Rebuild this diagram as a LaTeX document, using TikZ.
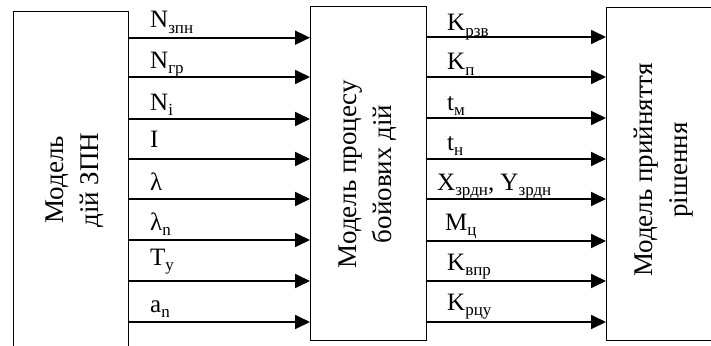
\documentclass[tikz,border=0pt]{standalone}
\usepackage{fontspec}
\setmainfont{Liberation Serif}
\usetikzlibrary{arrows.meta}
\newcommand\lsub[1]{\raisebox{-0.22em}{\fontsize{17}{17}\selectfont #1}}
\begin{document}
\begin{tikzpicture}[x=1pt,y=-1pt,
  box/.style={draw, line width=1.4pt, inner sep=0pt, anchor=north west},
  vtext/.style={rotate=90, align=center, font=\rmfamily\fontsize{27}{35}\selectfont, inner sep=0pt},
  lab/.style={anchor=base west, inner sep=0pt, font=\rmfamily\fontsize{25}{30}\selectfont},
  arr/.style={line width=1.8pt, -{Triangle[length=15pt,width=14pt]}}]
\useasboundingbox (0,0) rectangle (711,345);
% boxes
\node[box, minimum width=115pt, minimum height=360pt] (L) at (13,11) {};
\node[box, minimum width=116pt, minimum height=334pt] (M) at (310,6) {};
\node[box, minimum width=130pt, minimum height=333pt] (R) at (606,7) {};
% box texts
\node[vtext] (Lt) at (75,180) {Модель\\дій ЗПН};
\node[vtext] (Mt) at (368,174) {Модель процесу\\бойових дій};
\node[vtext] (Rt) at (664,170) {Модель прийняття\\рішення};
% left arrows
\foreach \y/\t/\d in {37.7/{N\lsub{зпн}}/10, 77/{N\lsub{гр}}/9, 119/{N\lsub{i}}/9, 159/I/12,
  199/λ/9, 240/{λ\lsub{n}}/10, 281/{T\lsub{y}}/16, 322/{a\lsub{n}}/10}{
  \draw[arr] (L.east |- 0,\y) -- (M.west |- 0,\y);
  \node[lab] at (150,\y-\d) {\t};
}
% right arrows
\foreach \y/\t/\d/\x in {37/{K\lsub{рзв}}/6/447, 77/{K\lsub{п}}/7/447, 118/{t\lsub{м}}/8/447, 159/{t\lsub{н}}/9/447,
  199/{X\lsub{зрдн}, Y\lsub{зрдн}}/9/437, 241/{M\lsub{ц}}/11/445, 281/{K\lsub{впр}}/11/447, 322/{K\lsub{рцу}}/12/447}{
  \draw[arr] (M.east |- 0,\y) -- (R.west |- 0,\y);
  \node[lab] at (\x,\y-\d) {\t};
}
\end{tikzpicture}
\end{document}
